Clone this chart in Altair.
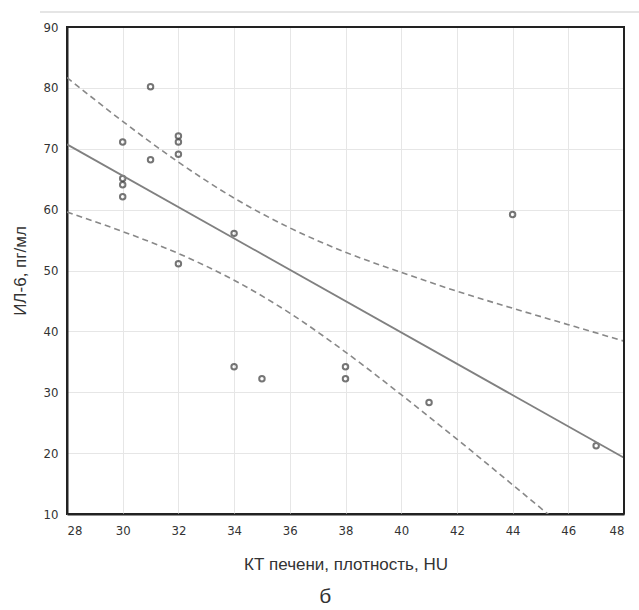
import altair as alt
import pandas as pd

# Scatter data (КТ печени, HU vs ИЛ-6, пг/мл)
kt = [31, 30, 32, 32, 32, 31, 30, 30, 30, 34, 32, 44, 34, 35, 38, 38, 41, 47]
il6 = [80.2, 71.1, 72.1, 71.1, 69.1, 68.2, 65.1, 64.1, 62.1, 56.1, 51.1, 59.2,
       34.2, 32.2, 34.2, 32.2, 28.3, 21.2]

# Confidence band (dashed lines)
band_x = [28, 30, 32, 34, 36, 38, 40, 42, 44, 46, 48]
band_upper = [81.7, 74.5, 67.8, 61.9, 57.0, 53.0, 49.7, 46.6, 43.8, 41.1, 38.4]
band_lower = [59.6, 56.4, 52.8, 48.4, 43.0, 36.6, 29.6, 22.3, 14.8, 7.2, -0.5]

x_ticks = list(range(28, 49, 2))
y_ticks = list(range(10, 91, 10))
x_range = [28, 48]
y_range = [10, 90]

pts = pd.DataFrame({"kt": kt, "il6": il6})
band = pd.DataFrame({
    "x": band_x * 2,
    "y": band_upper + band_lower,
    "side": ["upper"] * len(band_x) + ["lower"] * len(band_x),
})

FONT = "Liberation Sans"
LABEL_FONT = "'DejaVu Sans Condensed', 'Liberation Sans', sans-serif"

xscale = alt.Scale(domain=x_range, nice=False, zero=False)
yscale = alt.Scale(domain=y_range, nice=False, zero=False)

# no light grid line on the top/right frame edges
x_grid_color = alt.condition("datum.value >= 48", alt.value("rgba(0,0,0,0)"), alt.value("#e6e6e6"))
y_grid_color = alt.condition("datum.value >= 90", alt.value("rgba(0,0,0,0)"), alt.value("#e6e6e6"))

xaxis = alt.Axis(values=x_ticks, title="КТ печени, плотность, HU", grid=True,
                 gridColor=x_grid_color, domainColor="#222222", domainWidth=2,
                 ticks=False, labelPadding=10, labelFont=LABEL_FONT, labelFontSize=13,
                 labelColor="#333333", titleFont=FONT, titleFontSize=17,
                 titleFontWeight="normal", titleColor="#333333", titlePadding=19,
                 zindex=0)
yaxis = alt.Axis(values=y_ticks, title="ИЛ-6, пг/мл", grid=True,
                 gridColor=y_grid_color, domainColor="#222222", domainWidth=2,
                 ticks=False, labelPadding=9, labelFont=LABEL_FONT, labelFontSize=13,
                 labelColor="#333333", titleFont=FONT, titleFontSize=17,
                 titleFontWeight="normal", titleColor="#333333", titlePadding=14,
                 zindex=0)

points = alt.Chart(pts).mark_point(
    shape="circle", filled=False, size=30, strokeWidth=2, color="#3c3c3c"
).encode(
    x=alt.X("kt:Q", scale=xscale, axis=xaxis),
    y=alt.Y("il6:Q", scale=yscale, axis=yaxis),
)

reg = alt.Chart(pts).transform_regression(
    "kt", "il6", extent=x_range
).mark_line(color="#808080", strokeWidth=1.8, clip=True).encode(
    x=alt.X("kt:Q", scale=xscale),
    y=alt.Y("il6:Q", scale=yscale),
)

bands = alt.Chart(band).mark_line(
    color="#888888", strokeWidth=1.6, strokeDash=[6, 4], interpolate="monotone", clip=True
).encode(
    x=alt.X("x:Q", scale=xscale),
    y=alt.Y("y:Q", scale=yscale),
    detail="side:N",
)

# top and right edges of the plot frame
frame_top = alt.Chart(pd.DataFrame({"a": [0]})).mark_rule(
    color="#222222", strokeWidth=2, clip=False
).encode(x=alt.value(0), x2=alt.value(557), y=alt.value(0))
frame_right = alt.Chart(pd.DataFrame({"a": [0]})).mark_rule(
    color="#222222", strokeWidth=2, clip=False
).encode(x=alt.value(557), y=alt.value(0), y2=alt.value(487))

top_line = alt.Chart(pd.DataFrame({"a": [0]})).mark_rule(
    color="#cccccc", strokeWidth=1.2, clip=False
).encode(x=alt.value(-27), x2=alt.value(572), y=alt.value(-15))

chart = alt.layer(points, bands, reg, top_line, frame_top, frame_right).properties(
    width=557,
    height=487,
    background="white",
    autosize=alt.AutoSizeParams(type="none"),
    padding={"left": 67, "top": 27, "right": 15, "bottom": 96},
    title=alt.TitleParams("б", orient="bottom", anchor="middle", frame="bounds",
                          fontSize=21, font=FONT, fontWeight="normal",
                          color="#333333", offset=14),
).configure_view(
    stroke="#222222", strokeWidth=2
)

chart.save("out.html", embed_options={"renderer": "svg", "actions": False})
